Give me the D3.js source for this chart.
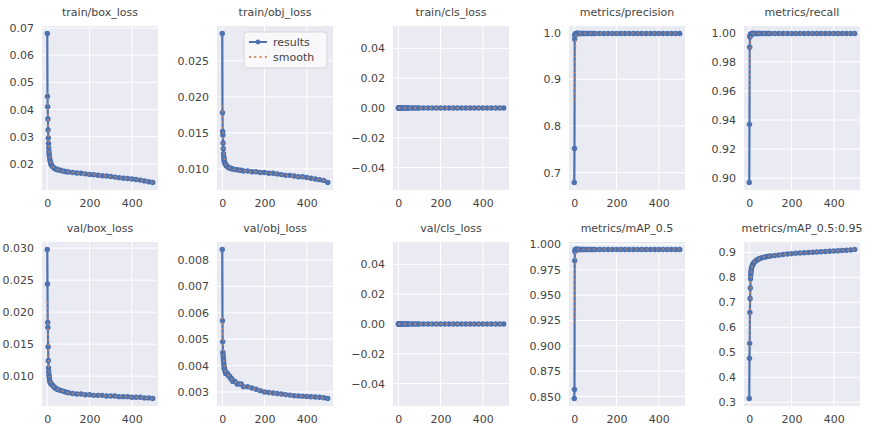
<!DOCTYPE html>
<html>
<head>
<meta charset="utf-8">
<script src="https://cdn.jsdelivr.net/npm/d3@7"></script>
<style>
  body { margin: 0; background: #fff; }
  svg { display: block; font-family: "DejaVu Sans", sans-serif; }
</style>
</head>
<body>
<div id="chart"></div>
<script>
const epochs = [0, 1, 2, 3, 4, 5, 6, 7, 8, 9, 10, 12, 14, 16, 18, 20, 25, 30, 35, 40, 45, 50,
	60, 70, 80, 90, 100, 120, 140, 160, 180, 200, 220, 240, 260, 280, 300, 320, 340, 360, 380,
	400, 420, 440, 460, 480, 499];

const trainBox = [0.0680, 0.0448, 0.0410, 0.0365, 0.0325, 0.0295, 0.0275, 0.0258, 0.0245, 0.0236, 0.0228,
	0.0217, 0.0209, 0.0203, 0.0199, 0.0195, 0.0190, 0.0186, 0.0183, 0.0181, 0.0179, 0.0178,
	0.0176, 0.0174, 0.0173, 0.0171, 0.0170, 0.0168, 0.0166, 0.0165, 0.0163, 0.0161, 0.0160, 0.0158,
	0.0156, 0.0155, 0.0153, 0.0151, 0.0149, 0.0147, 0.0146, 0.0144, 0.0142, 0.0140, 0.0137, 0.0134, 0.0131];
const trainObj = [0.0288, 0.0178, 0.0152, 0.0147, 0.0136, 0.0128, 0.0121, 0.0117, 0.0114, 0.0112, 0.0110,
	0.0108, 0.0107, 0.0106, 0.0105, 0.0104, 0.0103, 0.0102, 0.0101, 0.0101, 0.0100, 0.0100,
	0.0099, 0.0099, 0.0098, 0.0098, 0.0097, 0.0097, 0.0096, 0.0096, 0.0095, 0.0095, 0.0094, 0.0094,
	0.0093, 0.0092, 0.0091, 0.0091, 0.0090, 0.0089, 0.0089, 0.0088, 0.0087, 0.0086, 0.0085, 0.0084, 0.0081];
const trainCls = [0, 0, 0, 0, 0, 0, 0, 0, 0, 0, 0, 0, 0, 0, 0, 0, 0, 0, 0, 0, 0, 0, 0, 0,
	0, 0, 0, 0, 0, 0, 0, 0, 0, 0, 0, 0, 0, 0, 0, 0, 0, 0, 0, 0, 0, 0, 0];
const precision = [0.679, 0.752, 0.986, 0.994, 0.996, 0.997, 0.997, 0.997, 0.998, 0.998, 0.998,
	0.998, 0.998, 0.998, 0.998, 0.998, 0.998, 0.998, 0.998, 0.998, 0.998, 0.998,
	0.998, 0.998, 0.998, 0.998, 0.998, 0.998, 0.998, 0.998, 0.998, 0.998, 0.998, 0.998,
	0.998, 0.998, 0.998, 0.998, 0.998, 0.998, 0.998, 0.998, 0.998, 0.998, 0.998, 0.998, 0.998];
const recall = [0.897, 0.937, 0.990, 0.997, 0.998, 0.998, 0.999, 0.999, 0.999, 0.999, 0.999,
	0.9995, 0.9995, 0.9995, 0.9995, 0.9995, 0.9995, 0.9995, 0.9995, 0.9995, 0.9995, 0.9995,
	0.9995, 0.9995, 0.9995, 0.9995, 0.9995, 0.9995, 0.9995, 0.9995, 0.9995, 0.9995, 0.9995, 0.9995,
	0.9995, 0.9995, 0.9995, 0.9995, 0.9995, 0.9995, 0.9995, 0.9995, 0.9995, 0.9995, 0.9995, 0.9995, 0.9995];
const valBox = [0.0298, 0.0244, 0.0184, 0.0176, 0.0146, 0.0124, 0.0113, 0.0107, 0.0102, 0.0099, 0.0096,
	0.0092, 0.0090, 0.0089, 0.0088, 0.0087, 0.0086, 0.0084, 0.0082, 0.0081, 0.0080, 0.0079,
	0.0078, 0.0077, 0.0076, 0.0075, 0.0074, 0.0073, 0.0072, 0.0072, 0.0071, 0.0071, 0.0070, 0.0070,
	0.0070, 0.0069, 0.0069, 0.0069, 0.0068, 0.0068, 0.0068, 0.0067, 0.0067, 0.0067, 0.0066, 0.0066, 0.0065];
const valObj = [0.0084, 0.0057, 0.0049, 0.0045, 0.0044, 0.0043, 0.0042, 0.0041, 0.0040, 0.0039, 0.0039,
	0.0038, 0.0038, 0.0037, 0.0037, 0.0037, 0.0037, 0.0036, 0.0036, 0.0035, 0.0035, 0.0034,
	0.0034, 0.0033, 0.0033, 0.0033, 0.0032, 0.0032, 0.00315, 0.0031, 0.00305, 0.0030, 0.00298, 0.00296,
	0.00294, 0.00292, 0.0029, 0.00288, 0.00286, 0.00285, 0.00284, 0.00283, 0.00282, 0.00281, 0.0028, 0.00278, 0.00275];
const valCls = [0, 0, 0, 0, 0, 0, 0, 0, 0, 0, 0, 0, 0, 0, 0, 0, 0, 0, 0, 0, 0, 0, 0, 0,
	0, 0, 0, 0, 0, 0, 0, 0, 0, 0, 0, 0, 0, 0, 0, 0, 0, 0, 0, 0, 0, 0, 0];
const map50 = [0.848, 0.857, 0.984, 0.993, 0.994, 0.995, 0.995, 0.995, 0.995, 0.995, 0.995,
	0.995, 0.995, 0.995, 0.995, 0.995, 0.995, 0.995, 0.995, 0.995, 0.995, 0.995,
	0.995, 0.995, 0.995, 0.995, 0.995, 0.995, 0.995, 0.995, 0.995, 0.995, 0.995, 0.995,
	0.995, 0.995, 0.995, 0.995, 0.995, 0.995, 0.995, 0.995, 0.995, 0.995, 0.995, 0.995, 0.995];
const map5095 = [0.315, 0.476, 0.536, 0.660, 0.716, 0.758, 0.795, 0.810, 0.820, 0.828, 0.835,
	0.842, 0.847, 0.851, 0.854, 0.857, 0.862, 0.866, 0.869, 0.872, 0.874, 0.876,
	0.879, 0.881, 0.883, 0.885, 0.886, 0.888, 0.890, 0.892, 0.894, 0.895, 0.897, 0.898,
	0.899, 0.900, 0.901, 0.902, 0.903, 0.904, 0.905, 0.906, 0.907, 0.908, 0.909, 0.910, 0.912];

const titles = ["train/box_loss", "train/obj_loss", "train/cls_loss", "metrics/precision", "metrics/recall",
	"val/box_loss", "val/obj_loss", "val/cls_loss", "metrics/mAP_0.5", "metrics/mAP_0.5:0.95"];
const series = [trainBox, trainObj, trainCls, precision, recall, valBox, valObj, valCls, map50, map5095];
const yTicks = [
	[0.02, 0.03, 0.04, 0.05, 0.06, 0.07],
	[0.010, 0.015, 0.020, 0.025],
	[-0.04, -0.02, 0, 0.02, 0.04],
	[0.7, 0.8, 0.9, 1.0],
	[0.90, 0.92, 0.94, 0.96, 0.98, 1.00],
	[0.010, 0.015, 0.020, 0.025, 0.030],
	[0.003, 0.004, 0.005, 0.006, 0.007, 0.008],
	[-0.04, -0.02, 0, 0.02, 0.04],
	[0.850, 0.875, 0.900, 0.925, 0.950, 0.975, 1.000],
	[0.3, 0.4, 0.5, 0.6, 0.7, 0.8, 0.9]
];
const yFormats = [".2f", ".3f", ".2f", ".1f", ".2f", ".3f", ".3f", ".2f", ".3f", ".1f"];
const xTicks = [0, 200, 400];

// layout
const width = 872, height = 425;
const lefts = [42, 217, 393, 569, 744];
const tops = [26, 242];
const pw = 116, ph = 164;
const blue = "#4C72B0", orange = "#D98A60";

// gaussian smoothing (sigma = 3 epochs, reflect at the ends), as the training script does
function smooth(xs, ys) {
	const last = xs[xs.length - 1];
	return xs.map(e => {
		let sw = 0, s = 0;
		xs.forEach((xj, j) => {
			[xj, -xj - 1, 2 * last + 1 - xj].forEach(p => {
				const w = Math.exp(-((p - e) ** 2) / 18);
				sw += w; s += w * ys[j];
			});
		});
		return s / sw;
	});
}

const svg = d3.select("#chart").append("svg")
	.attr("width", width)
	.attr("height", height);

const xMax = d3.max(epochs);

series.forEach((ys, i) => {
	const col = i % 5, row = Math.floor(i / 5);
	const g = svg.append("g")
		.attr("transform", `translate(${lefts[col]},${tops[row]})`);

	let lo = d3.min(ys), hi = d3.max(ys);
	if (lo === hi) { lo -= 0.05; hi += 0.05; }
	const pad = (hi - lo) * 0.05;

	const x = d3.scaleLinear().domain([-0.05 * xMax, 1.05 * xMax]).range([0, pw]);
	const y = d3.scaleLinear().domain([lo - pad, hi + pad]).range([ph, 0]);

	g.append("rect")
		.attr("width", pw).attr("height", ph)
		.attr("fill", "#EAEAF2");

	// grid
	g.append("g").selectAll("line")
		.data(xTicks).enter().append("line")
		.attr("x1", d => x(d)).attr("x2", d => x(d))
		.attr("y1", 0).attr("y2", ph)
		.attr("stroke", "#fff").attr("stroke-width", 1);
	g.append("g").selectAll("line")
		.data(yTicks[i]).enter().append("line")
		.attr("x1", 0).attr("x2", pw)
		.attr("y1", d => y(d)).attr("y2", d => y(d))
		.attr("stroke", "#fff").attr("stroke-width", 1);

	// axes (labels only)
	g.append("g")
		.attr("transform", `translate(0,${ph})`)
		.call(d3.axisBottom(x).tickValues(xTicks).tickSize(0).tickPadding(9).tickFormat(d3.format("d")))
		.call(a => a.select(".domain").remove());
	g.append("g")
		.call(d3.axisLeft(y).tickValues(yTicks[i]).tickSize(0).tickPadding(8).tickFormat(d3.format(yFormats[i])))
		.call(a => a.select(".domain").remove());
	g.selectAll(".tick text")
		.attr("font-size", 11)
		.attr("font-family", "DejaVu Sans")
		.attr("fill", "#444");

	g.append("text")
		.attr("x", pw / 2).attr("y", -10)
		.attr("text-anchor", "middle")
		.attr("font-size", 11)
		.attr("fill", "#444")
		.text(titles[i]);

	const pts = epochs.map((e, k) => [e, ys[k]]);
	const sm = smooth(epochs, ys).map((v, k) => [epochs[k], v]);
	const line = d3.line().x(d => x(d[0])).y(d => y(d[1]));

	g.append("path")
		.attr("d", line(pts))
		.attr("fill", "none")
		.attr("stroke", blue)
		.attr("stroke-width", 2.2)
		.attr("stroke-linejoin", "round");
	g.append("g").selectAll("circle")
		.data(pts).enter().append("circle")
		.attr("cx", d => x(d[0])).attr("cy", d => y(d[1]))
		.attr("r", 2.7)
		.attr("fill", blue);
	g.append("path")
		.attr("d", line(sm))
		.attr("fill", "none")
		.attr("stroke", orange)
		.attr("stroke-opacity", 0.7)
		.attr("stroke-width", 1.8)
		.attr("stroke-dasharray", "2,3.3");

	if (i === 1) {
		const lg = g.append("g").attr("transform", `translate(${pw - 89},6)`);
		lg.append("rect")
			.attr("width", 83).attr("height", 36)
			.attr("rx", 3)
			.attr("fill", "#fafafc").attr("fill-opacity", 0.85)
			.attr("stroke", "#d6d6d6");
		lg.append("line").attr("x1", 5).attr("x2", 23).attr("y1", 10).attr("y2", 10)
			.attr("stroke", blue).attr("stroke-width", 2);
		lg.append("circle").attr("cx", 14).attr("cy", 10).attr("r", 2.4).attr("fill", blue);
		lg.append("line").attr("x1", 5).attr("x2", 23).attr("y1", 25).attr("y2", 25)
			.attr("stroke", orange).attr("stroke-width", 2).attr("stroke-dasharray", "2,3.3");
		lg.selectAll("text")
			.data(["results", "smooth"]).enter().append("text")
			.attr("x", 29).attr("y", (d, k) => 14 + k * 15)
			.attr("font-size", 11)
			.attr("fill", "#444")
			.text(d => d);
	}
});
</script>
</body>
</html>
